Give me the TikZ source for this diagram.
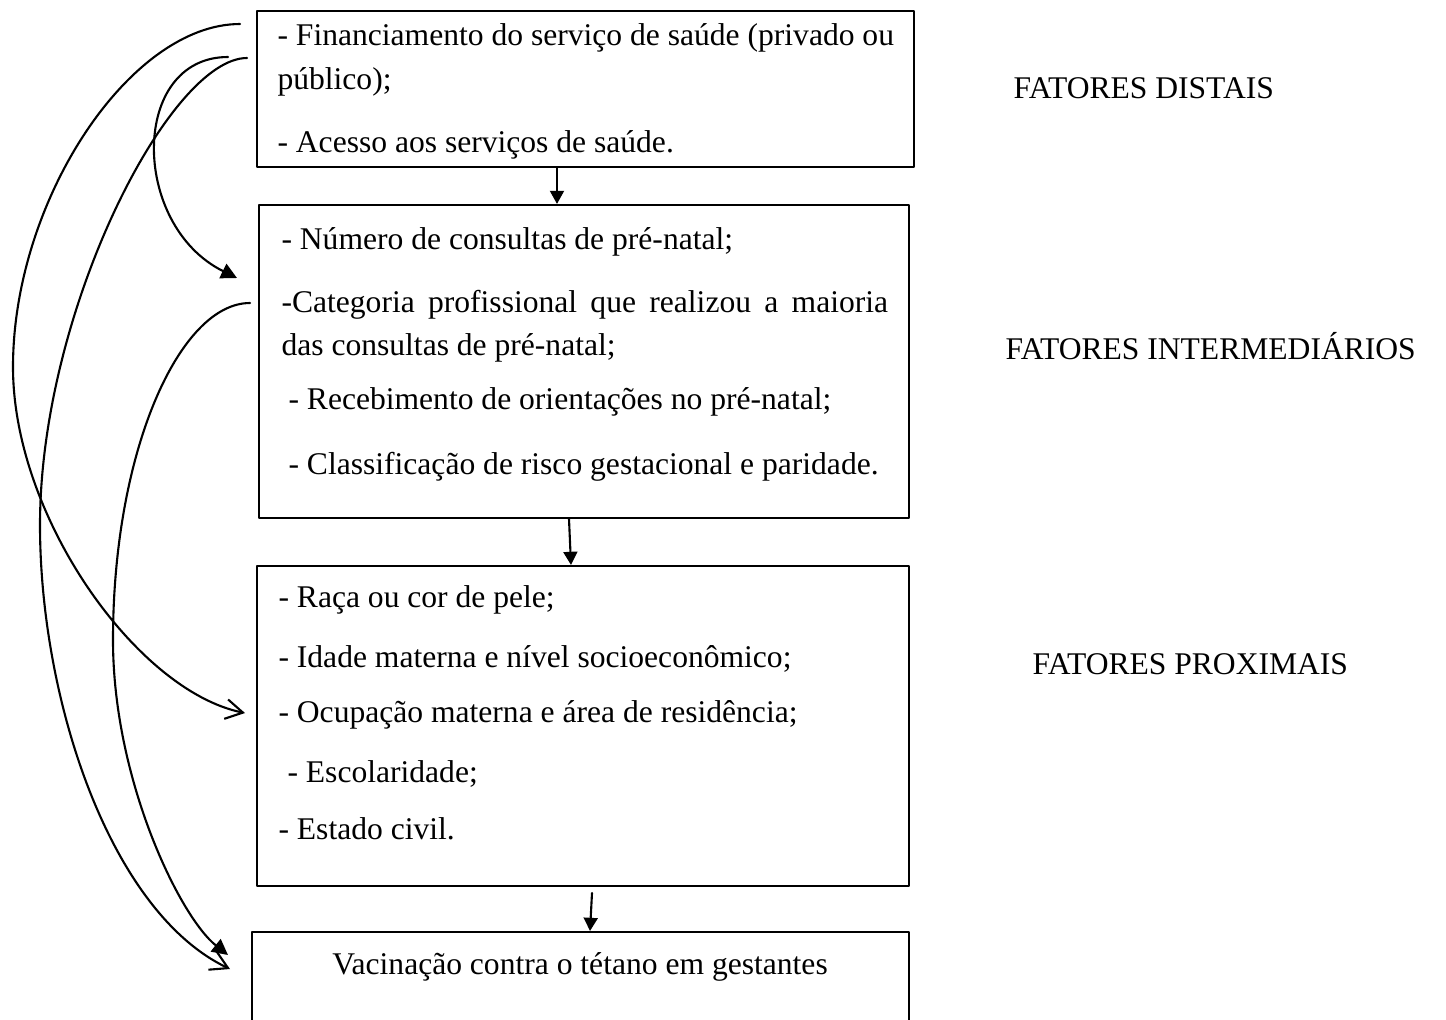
\documentclass[tikz,border=0pt]{standalone}
\usepackage{fontspec}
\setmainfont{Liberation Serif}
\usetikzlibrary{arrows.meta,fit}

\begin{document}
\begin{tikzpicture}[
	% estilos do modelo hierárquico
	x=0.38pt, y=-0.38pt,
	caixa/.style={draw, line width=0.8pt, inner sep=0pt}, % caixas dos níveis
	linha/.style={anchor=base west, inner sep=0pt, font=\fontsize{12}{14}\selectfont}, % linhas de texto
	fator/.style={anchor=base west, inner sep=0pt, font=\fontsize{12}{14}\selectfont}, % nomes dos níveis
	seta/.style={line width=0.8pt, -{Triangle[length=5pt,width=5.3pt]}}, % setas verticais
	aberta/.style={line width=0.8pt, -{Straight Barb[length=6.5pt,width=7.5pt]}}, % curvas de ponta aberta
	cheia/.style={line width=0.8pt, -{Triangle[length=6pt,width=6pt]}} % curvas de ponta cheia
	,line join=round,line cap=round]

	% caixas
	\node[caixa, fit={(257,11) (914,167)}] (b1) {};
	\node[caixa, fit={(259,205) (909,518)}] (b2) {};
	\node[caixa, fit={(257,566) (909,886)}] (b3) {};
	\node[caixa, fit={(252,932) (909,1060)}] (b4) {};

	% fatores distais
	\node[linha] (l11) at (277,45) {- Financiamento do serviço de saúde (privado ou};
	\node[linha] (l12) at (277,89) {público);};
	\node[linha] (l13) at (277,152) {- Acesso aos serviços de saúde.};

	% fatores intermediários
	\node[linha] (l21) at (281,249) {- Número de consultas de pré-natal;};
	\node[linha] (l22) at (281,312) {\makebox[230.5pt][s]{-Categoria profissional que realizou a maioria}};
	\node[linha] (l23) at (281,355) {das consultas de pré-natal;};
	\node[linha] (l24) at (288,409) {- Recebimento de orientações no pré-natal;};
	\node[linha] (l25) at (288,474) {- Classificação de risco gestacional e paridade.};

	% fatores proximais
	\node[linha] (l31) at (278,607) {- Raça ou cor de pele;};
	\node[linha] (l32) at (278,667) {- Idade materna e nível socioeconômico;};
	\node[linha] (l33) at (278,722) {- Ocupação materna e área de residência;};
	\node[linha] (l34) at (287,782) {- Escolaridade;};
	\node[linha] (l35) at (278,839) {- Estado civil.};

	% desfecho
	\node[linha, anchor=base] (l41) at (580,974) {Vacinação contra o tétano em gestantes};

	% nomes dos níveis
	\node[fator] (f1) at (1013,98) {FATORES DISTAIS};
	\node[fator] (f2) at (1005,359) {FATORES INTERMEDIÁRIOS};
	\node[fator] (f3) at (1032,674) {FATORES PROXIMAIS};

	% setas entre os níveis
	\draw[seta] (557,0 |- b1.south) -- (557,0 |- b2.north);
	\draw[seta] (569,0 |- b2.south) -- (571,0 |- b3.north);
	\coordinate (c34) at (592,893);
	\draw[seta] (c34) -- (590,0 |- b4.north);

	% pontas livres das curvas
	\coordinate (dA) at (240,24);  % distais -> proximais
	\coordinate (dB) at (247,58);  % distais -> desfecho
	\coordinate (dC) at (228,57);  % distais -> intermediários
	\coordinate (iD) at (250,303); % intermediários -> desfecho
	\coordinate (pA) at (245,713);
	\coordinate (pB) at (230,969);
	\coordinate (pC) at (237,278);
	\coordinate (pD) at (228,955);

	% curvas à esquerda
	\draw[aberta] (dA) .. controls (130,24) and (13,200) .. (13,367)
		.. controls (13,517) and (137,691) .. (pA);
	\draw[aberta] (dB) .. controls (170,58) and (40,310) .. (40,525)
		.. controls (40,700) and (110,912) .. (pB);
	\draw[cheia] (dC) .. controls (130,57) and (130,225) .. (pC);
	\draw[cheia] (iD) .. controls (180,303) and (113,450) .. (113,640)
		.. controls (113,780) and (180,917) .. (pD);

	\pgfresetboundingbox
	\useasboundingbox (0,0) rectangle (1446,1019);
\end{tikzpicture}
\end{document}
